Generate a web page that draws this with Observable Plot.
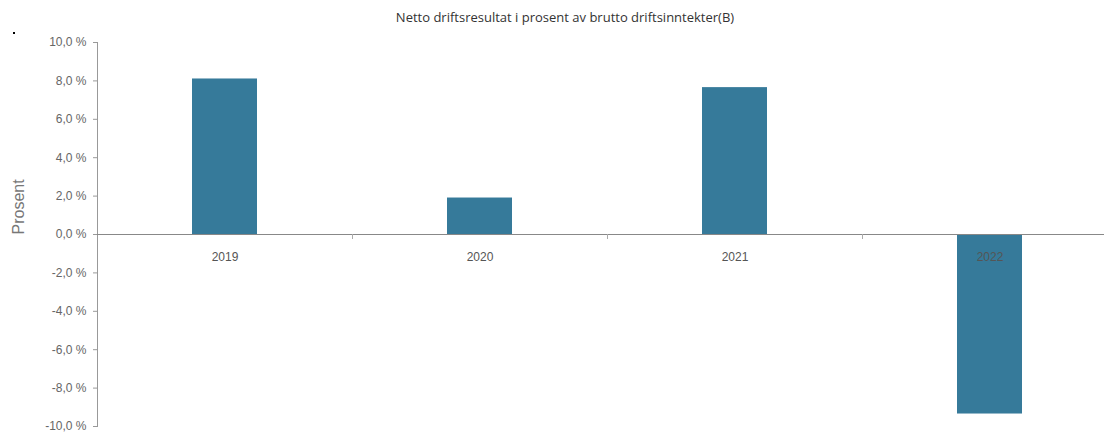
<!DOCTYPE html>
<html>
<head>
<meta charset="utf-8">
<script src="https://cdn.jsdelivr.net/npm/d3@7"></script>
<script src="https://cdn.jsdelivr.net/npm/@observablehq/plot@0.6"></script>
<style>
  html, body { margin: 0; padding: 0; background: #fff; }
  #wrap { position: relative; width: 1106px; height: 432px; }
  #title { position: absolute; left: 0; top: 8px; width: 1130px; text-align: center;
    font: 13px "Open Sans", sans-serif; color: #333; }
  #dot { position: absolute; left: 13px; top: 32px; width: 2px; height: 2px; background: #000; }
  #chart { position: absolute; left: 0; top: 0; }
</style>
</head>
<body>
<div id="wrap">
  <div id="chart"></div>
  <div id="title">Netto driftsresultat i prosent av brutto driftsinntekter(B)</div>
  <div id="dot"></div>
</div>
<script>
const years = ["2019", "2020", "2021", "2022"];
const values = [8.1, 1.9, 7.65, -9.35];
const yTicks = [-10, -8, -6, -4, -2, 0, 2, 4, 6, 8, 10];
const yLabel = "Prosent";
const boundaries = ["2019", "2020", "2021"];

const data = years.map((y, i) => ({year: y, value: values[i]}));
const fmt = d => d.toFixed(1).replace(".", ",") + " %";

const chart = Plot.plot({
  width: 1106,
  height: 432,
  marginLeft: 97,
  marginRight: 2,
  marginTop: 42,
  marginBottom: 6,
  style: {fontFamily: "'Liberation Sans', Arial, sans-serif", fontSize: "12px", color: "#666", background: "#fff"},
  x: {domain: years, range: [97, 1117], paddingInner: 0.745, paddingOuter: 0.3725, align: 0.5, axis: null},
  y: {domain: [-10, 10], axis: null},
  marks: [
    Plot.barY(data, {x: "year", y: "value", fill: "#367a9a"}),
    Plot.frame({anchor: "left", stroke: "#999"}),
    Plot.ruleY([0], {stroke: "#888", strokeWidth: 1.2}),
    Plot.ruleX(boundaries, {x: d => d, y1: 0, y2: 0, dx: 127.5, insetBottom: -5, stroke: "#aaa"}),
    Plot.axisY({ticks: yTicks, tickFormat: fmt, tickSize: 4, tickPadding: 7, stroke: "#999", fill: "#666", label: null, fontSize: 12}),
    Plot.text(data, {x: "year", y: 0, text: "year", dy: 23, fill: "#555", fontSize: 12}),
    Plot.text([{label: yLabel, v: 0}], {y: "v", text: "label", frameAnchor: "left", dx: -79, rotate: -90, fontSize: 16, fill: "#777"})
  ]
});
document.getElementById("chart").appendChild(chart);
</script>
</body>
</html>
